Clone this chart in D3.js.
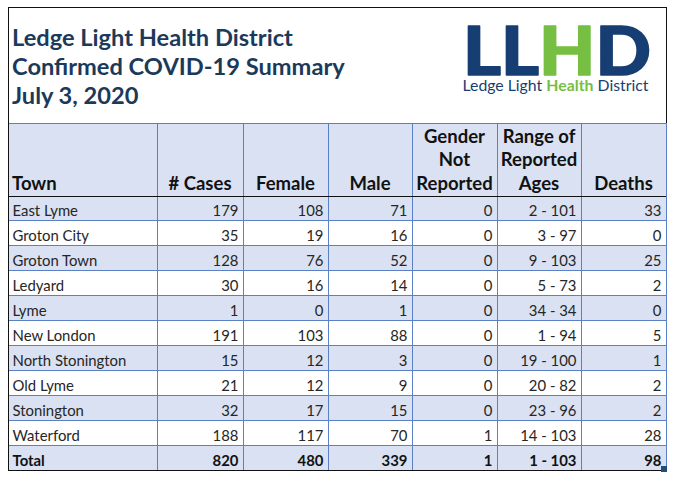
<!DOCTYPE html>
<html><head><meta charset="utf-8">
<script src="https://cdn.jsdelivr.net/npm/d3@7"></script>
<style>html,body{margin:0;padding:0;background:#fff;} svg{display:block} text{white-space:pre}</style>
</head><body><svg id="c" width="675" height="481"></svg>
<script>
// ---- DATA ----
const titleLines = ["Ledge Light Health District", "Confirmed COVID-19 Summary", "July 3, 2020"];
const headerLines = [["Town"], ["# Cases"], ["Female"], ["Male"], ["Gender", "Not", "Reported"], ["Range of", "Reported", "Ages"], ["Deaths"]];
const towns = ["East Lyme", "Groton City", "Groton Town", "Ledyard", "Lyme", "New London", "North Stonington", "Old Lyme", "Stonington", "Waterford"];
const cases = [179, 35, 128, 30, 1, 191, 15, 21, 32, 188];
const female = [108, 19, 76, 16, 0, 103, 12, 12, 17, 117];
const male = [71, 16, 52, 14, 1, 88, 3, 9, 15, 70];
const genderNotReported = [0, 0, 0, 0, 0, 0, 0, 0, 0, 1];
const ageRange = ["2 - 101", "3 - 97", "9 - 103", "5 - 73", "34 - 34", "1 - 94", "19 - 100", "20 - 82", "23 - 96", "14 - 103"];
const deaths = [33, 0, 25, 2, 0, 5, 1, 2, 2, 28];
const totals = ["Total", 820, 480, 339, 1, "1 - 103", 98];
const logoLetters = ["L", "L", "H", "D"];
const taglineParts = ["Ledge Light", "Health", "District"];

// ---- LAYOUT / STYLE ----
const FONT = "Lato, 'Open Sans', sans-serif";
const navy = "#1B3A5A", logoBlue = "#173E72", logoGreen = "#76BF43";
const fill = "#D9E1F2", grid = "#5B80C6";
const frame = {l: 8, r: 666, t: 7, b: 470};
const headTop = 123, headBottom = 196;
const colWeights = [149, 86, 85, 84, 85, 84, 85];

const svg = d3.select("#c");

// font calibration helper
const probe = svg.append("text").attr("x", -1000).attr("y", -1000).style("font-family", FONT);
function widthAt(str, weight, size) {
  probe.text(str).style("font-weight", weight).style("font-size", size + "px");
  return probe.node().getComputedTextLength();
}
function fitSize(str, weight, target) { return 100 * target / widthAt(str, weight, 100); }
const titleSize = fitSize("Ledge Light Health District", 700, 281);
const headSize = fitSize("Reported", 700, 76.5);
const bodySize = (fitSize("East Lyme", 400, 69) + fitSize("14 - 103", 400, 53.3)) / 2;
const tagWeights = [400, 700, 400];
const gap100 = widthAt("a b", 400, 100) - widthAt("ab", 400, 100);
const tagW100 = taglineParts.map((t, i) => widthAt(t, tagWeights[i], 100));
const tagSize = 100 * 186 / (d3.sum(tagW100) + 2 * gap100);
probe.remove();

// scales
const edges = [0, ...d3.cumsum(colWeights)];
const x = d3.scaleLinear().domain([0, d3.sum(colWeights)]).range([frame.l, frame.r]);
const rowKeys = [...towns, "Total"];
const y = d3.scaleBand().domain(rowKeys).range([headBottom, frame.b]);
const bw = y.bandwidth();

// ---- TITLE ----
svg.append("g").selectAll("text").data(titleLines).join("text")
  .attr("x", 12).attr("y", (d, i) => 46 + i * 29)
  .style("font-family", FONT).style("font-weight", 700).style("font-size", titleSize + "px")
  .attr("fill", navy).text(d => d);

// ---- LOGO ----
const logo = svg.append("g");
logo.append("text").attr("x", 463).attr("y", 74.5)
  .attr("textLength", 188).attr("lengthAdjust", "spacingAndGlyphs")
  .style("font-family", FONT).style("font-weight", 900).style("font-size", "67px")
  .attr("stroke-width", 1.6).attr("stroke-linejoin", "round")
  .selectAll("tspan").data(logoLetters).join("tspan")
  .attr("fill", (d, i) => i === 2 ? logoGreen : logoBlue)
  .attr("stroke", (d, i) => i === 2 ? logoGreen : logoBlue).text(d => d);
const k = tagSize / 100;
const tagX = [462.5, 462.5 + (tagW100[0] + gap100) * k, 462.5 + (tagW100[0] + tagW100[1] + 2 * gap100) * k];
logo.selectAll("text.tag").data(taglineParts).join("text").attr("class", "tag")
  .attr("x", (d, i) => tagX[i]).attr("y", 91)
  .style("font-family", FONT).style("font-size", tagSize + "px")
  .style("font-weight", (d, i) => tagWeights[i])
  .attr("fill", (d, i) => i === 1 ? logoGreen : logoBlue).text(d => d);

// ---- TABLE BACKGROUNDS ----
svg.append("rect").attr("x", frame.l).attr("y", headTop).attr("width", frame.r - frame.l).attr("height", headBottom - headTop).attr("fill", fill);
svg.append("g").selectAll("rect").data(rowKeys.filter((d, i) => i % 2 === 0)).join("rect")
  .attr("x", frame.l).attr("y", d => y(d)).attr("width", frame.r - frame.l).attr("height", bw).attr("fill", fill);

// ---- GRID ----
const g = svg.append("g").attr("stroke", grid).attr("stroke-width", 1).attr("shape-rendering", "crispEdges");
g.selectAll("line.v").data(edges.slice(1, -1)).join("line").attr("class", "v")
  .attr("x1", d => x(d)).attr("x2", d => x(d)).attr("y1", headTop).attr("y2", frame.b);
g.selectAll("line.h").data(rowKeys.slice(1)).join("line").attr("class", "h")
  .attr("x1", frame.l).attr("x2", frame.r).attr("y1", d => y(d)).attr("y2", d => y(d));
g.append("line").attr("x1", frame.l).attr("x2", frame.r).attr("y1", headTop).attr("y2", headTop);
g.append("line").attr("x1", frame.r).attr("x2", frame.r).attr("y1", headTop).attr("y2", frame.b);
svg.append("line").attr("x1", frame.l).attr("x2", frame.r).attr("y1", headBottom).attr("y2", headBottom)
  .attr("stroke", "#111").attr("shape-rendering", "crispEdges");
// outer frame
svg.append("path").attr("d", `M${frame.l},${frame.b}V${frame.t}H${frame.r}V${headTop}`)
  .attr("fill", "none").attr("stroke", "#111").attr("shape-rendering", "crispEdges");
svg.append("line").attr("x1", frame.l).attr("x2", frame.r).attr("y1", frame.b).attr("y2", frame.b)
  .attr("stroke", "#111").attr("shape-rendering", "crispEdges");
svg.append("rect").attr("x", frame.r - 5).attr("y", frame.b - 4).attr("width", 6).attr("height", 6).attr("fill", "#1F4E79");

// ---- HEADER TEXT ----
const lineH = 23.7;
const hg = svg.append("g").style("font-family", FONT).style("font-weight", 700).style("font-size", headSize + "px").attr("fill", "#111");
headerLines.forEach((lines, c) => {
  const cx = c === 0 ? x(edges[0]) + 4 : (x(edges[c]) + x(edges[c + 1])) / 2;
  hg.append("g").selectAll("text").data(lines).join("text")
    .attr("x", cx).attr("text-anchor", c === 0 ? "start" : "middle")
    .attr("y", (d, i) => headBottom - 6 - (lines.length - 1 - i) * lineH)
    .text(d => d);
});

// ---- BODY ----
const rows = towns.map((t, i) => [t, cases[i], female[i], male[i], genderNotReported[i], ageRange[i], deaths[i]]);
const bg = svg.append("g").style("font-family", FONT).style("font-size", bodySize + "px");
function drawRow(vals, key, bold) {
  bg.append("g").selectAll("text").data(vals).join("text")
    .attr("x", (d, c) => c === 0 ? x(edges[0]) + 4.5 : x(edges[c + 1]) - 4.5)
    .attr("text-anchor", (d, c) => c === 0 ? "start" : "end")
    .attr("y", y(key) + bw - 4.5)
    .attr("fill", bold ? "#111" : "#262626")
    .style("font-weight", bold ? 700 : 400)
    .text(d => d);
}
rows.forEach((r, i) => drawRow(r, towns[i], false));
drawRow(totals, "Total", true);
</script></body></html>
